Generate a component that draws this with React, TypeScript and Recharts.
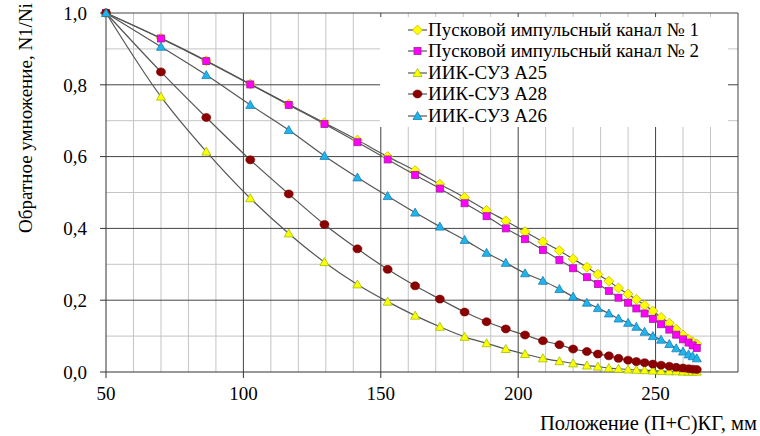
import { LineChart, Line, XAxis, YAxis, ReferenceLine, Legend } from "recharts";

const positions = [50, 70, 86.5, 102.5, 116.5, 129.5, 141.5, 152.5, 162.5, 171.5, 180.5, 188.5, 195.5, 202.5, 209, 215, 220, 225, 229, 233, 236.5, 240, 243, 246, 249, 252, 255, 257.5, 260, 262, 263.5, 265];

const channel1 = [1, 0.93, 0.867, 0.802, 0.746, 0.694, 0.646, 0.6, 0.561, 0.523, 0.486, 0.45, 0.421, 0.391, 0.363, 0.338, 0.315, 0.292, 0.272, 0.253, 0.234, 0.217, 0.202, 0.186, 0.17, 0.152, 0.136, 0.119, 0.103, 0.091, 0.084, 0.078];
const channel2 = [1, 0.929, 0.866, 0.801, 0.744, 0.691, 0.64, 0.592, 0.549, 0.511, 0.47, 0.434, 0.4, 0.37, 0.34, 0.312, 0.289, 0.264, 0.245, 0.226, 0.207, 0.193, 0.177, 0.163, 0.148, 0.133, 0.118, 0.104, 0.091, 0.082, 0.074, 0.067];
const a25 = [1, 0.767, 0.614, 0.484, 0.386, 0.306, 0.244, 0.196, 0.157, 0.126, 0.098, 0.08, 0.064, 0.05, 0.038, 0.03, 0.024, 0.018, 0.015, 0.011, 0.009, 0.007, 0.006, 0.005, 0.004, 0.003, 0.002, 0.002, 0.001, 0.001, 0.001, 0.001];
const a28 = [1, 0.836, 0.709, 0.591, 0.496, 0.411, 0.343, 0.286, 0.24, 0.203, 0.167, 0.14, 0.12, 0.103, 0.087, 0.076, 0.064, 0.057, 0.05, 0.045, 0.038, 0.033, 0.029, 0.026, 0.022, 0.019, 0.016, 0.013, 0.011, 0.009, 0.008, 0.007];
const a26 = [1, 0.906, 0.827, 0.744, 0.674, 0.602, 0.542, 0.49, 0.444, 0.405, 0.368, 0.332, 0.304, 0.275, 0.254, 0.231, 0.21, 0.193, 0.178, 0.163, 0.149, 0.137, 0.126, 0.112, 0.1, 0.09, 0.078, 0.066, 0.057, 0.049, 0.044, 0.038];

const xTicks = [50, 100, 150, 200, 250];
const yTicks = [0, 0.2, 0.4, 0.6, 0.8, 1];
const xMinorGrid = [60, 70, 80, 90, 110, 120, 130, 140, 160, 170, 180, 190, 210, 220, 230, 240, 260, 270];
const xMajorGrid = [100, 150, 200, 250, 280];
const yMinorGrid = [0.1, 0.3, 0.5, 0.7, 0.9];
const yMajorGrid = [0.2, 0.4, 0.6, 0.8, 1];

const data = positions.map((x, i) => ({
  x,
  ch1: channel1[i],
  ch2: channel2[i],
  a25: a25[i],
  a28: a28[i],
  a26: a26[i],
}));

const FONT = "Liberation Serif, Tinos, DejaVu Serif, Times New Roman, serif";
const FS = 19;

type Shape = "diamond" | "square" | "triangle" | "circle";

function Marker({ cx, cy, shape, fill, stroke }: { cx: number; cy: number; shape: Shape; fill: string; stroke: string }) {
  if (shape === "diamond")
    return <polygon points={`${cx},${cy - 5} ${cx + 5},${cy} ${cx},${cy + 5} ${cx - 5},${cy}`} fill={fill} stroke={stroke} strokeWidth={0.8} />;
  if (shape === "square")
    return <rect x={cx - 3.5} y={cy - 3.5} width={7} height={7} fill={fill} stroke={stroke} strokeWidth={0.8} />;
  if (shape === "triangle")
    return <polygon points={`${cx},${cy - 4.5} ${cx + 4.5},${cy + 3.5} ${cx - 4.5},${cy + 3.5}`} fill={fill} stroke={stroke} strokeWidth={0.8} />;
  return <ellipse cx={cx} cy={cy} rx={4.5} ry={4} fill={fill} stroke={stroke} strokeWidth={0.6} />;
}

const series = [
  { key: "ch1", name: "Пусковой импульсный канал № 1", shape: "diamond" as Shape, fill: "#ffff00", stroke: "#c9b800" },
  { key: "ch2", name: "Пусковой импульсный канал № 2", shape: "square" as Shape, fill: "#ff00ff", stroke: "#a0209a" },
  { key: "a25", name: "ИИК-СУЗ А25", shape: "triangle" as Shape, fill: "#ffff00", stroke: "#9cc000" },
  { key: "a28", name: "ИИК-СУЗ А28", shape: "circle" as Shape, fill: "#8b0000", stroke: "#7a0000" },
  { key: "a26", name: "ИИК-СУЗ А26", shape: "triangle" as Shape, fill: "#1fb4ea", stroke: "#1c7fb8" },
];

function LegendBox() {
  return (
    <div style={{ background: "#fff", paddingTop: 2 }}>
      {series.map((s) => (
        <div key={s.key} style={{ display: "flex", alignItems: "center", height: 21.5, fontFamily: FONT, fontSize: FS, color: "#000" }}>
          <svg width={48} height={14} style={{ flex: "none" }}>
            <line x1={28} y1={7} x2={47} y2={7} stroke="#555" strokeWidth={1.2} />
            <Marker cx={37.5} cy={7} shape={s.shape} fill={s.fill} stroke={s.stroke} />
          </svg>
          <span style={{ whiteSpace: "nowrap" }}>{s.name}</span>
        </div>
      ))}
    </div>
  );
}

export default function App() {
  return (
    <div style={{ position: "absolute", left: 0, top: 0, width: 760, height: 436, background: "#fff" }}>
      <LineChart width={760} height={436} data={data} margin={{ top: 13, right: 22, bottom: 0, left: 0 }}>
        {xMinorGrid.map((v) => (
          <ReferenceLine key={`xm${v}`} x={v} stroke="#c4c4c4" strokeWidth={1} />
        ))}
        {yMinorGrid.map((v) => (
          <ReferenceLine key={`ym${v}`} y={v} stroke="#c4c4c4" strokeWidth={1} />
        ))}
        {xMajorGrid.map((v) => (
          <ReferenceLine key={`xM${v}`} x={v} stroke="#444" strokeWidth={1} />
        ))}
        {yMajorGrid.map((v) => (
          <ReferenceLine key={`yM${v}`} y={v} stroke="#444" strokeWidth={1} />
        ))}
        <XAxis
          dataKey="x"
          type="number"
          domain={[50, 280]}
          ticks={xTicks}
          height={64}
          stroke="#333"
          tickSize={6}
          tickMargin={9}
          tick={{ fill: "#000", fontSize: FS, fontFamily: FONT }}
          label={{
            value: "Положение (П+С)КГ, мм",
            content: (p: any) => (
              <text x={p.viewBox.x + p.viewBox.width + 19} y={p.viewBox.y + 58} textAnchor="end" fontSize={20.5} fontFamily={FONT} fill="#000">
                Положение (П+С)КГ, мм
              </text>
            ),
          }}
        />
        <YAxis
          type="number"
          domain={[0, 1]}
          ticks={yTicks}
          width={106}
          stroke="#333"
          tickSize={6}
          tickMargin={13}
          tickFormatter={(v: number) => v.toFixed(1).replace(".", ",")}
          tick={{ fill: "#000", fontSize: FS, fontFamily: FONT }}
          label={{
            value: "Обратное умножение, N1/Ni",
            content: () => (
              <text x={25} y={118} transform="rotate(-90 25 118)" textAnchor="middle" dominantBaseline="central" fontSize={FS} fontFamily={FONT} fill="#000">
                Обратное умножение, N1/Ni
              </text>
            ),
          }}
        />
        <Legend
          layout="vertical"
          align="center"
          verticalAlign="middle"
          content={() => <LegendBox />}
          wrapperStyle={{ left: 380, top: 17, width: 348, height: 108 }}
        />
        {series.map((s) => (
          <Line
            key={s.key}
            dataKey={s.key}
            name={s.name}
            type="monotone"
            stroke="#555"
            strokeWidth={1.2}
            isAnimationActive={false}
            dot={(p: any) => <Marker key={`${s.key}-${p.index}`} cx={p.cx} cy={p.cy} shape={s.shape} fill={s.fill} stroke={s.stroke} />}
            activeDot={false}
          />
        ))}
      </LineChart>
    </div>
  );
}
